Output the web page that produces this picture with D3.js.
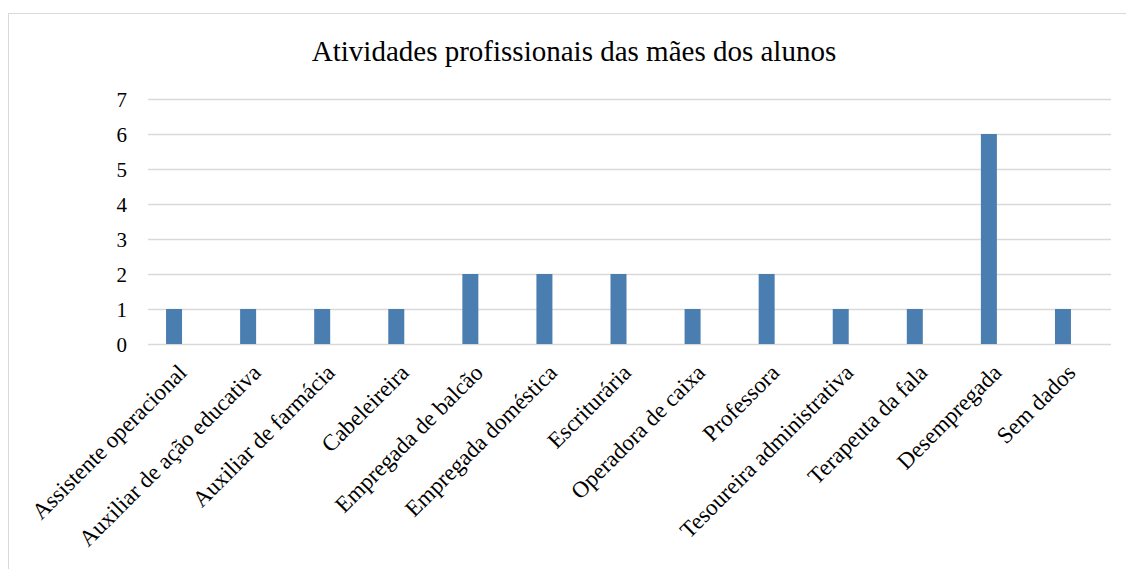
<!DOCTYPE html>
<html><head><meta charset="utf-8">
<script src="https://cdnjs.cloudflare.com/ajax/libs/d3/7.8.5/d3.min.js"></script>
<style>html,body{margin:0;padding:0;background:#fff;}svg{display:block;}</style>
</head><body>
<svg id="c" width="1126" height="569"></svg>
<script>
const title = "Atividades profissionais das mães dos alunos";
const categories = ["Assistente operacional","Auxiliar de ação educativa","Auxiliar de farmácia","Cabeleireira","Empregada de balcão","Empregada doméstica","Escriturária","Operadora de caixa","Professora","Tesoureira administrativa","Terapeuta da fala","Desempregada","Sem dados"];
const values = [1,1,1,1,2,2,2,1,2,1,1,6,1];
const yTicks = [0,1,2,3,4,5,6,7];

const svg = d3.select("#c");
const font = "Liberation Serif, Times New Roman, serif";
svg.append("rect").attr("width",1126).attr("height",569).attr("fill","#fff");
svg.append("rect").attr("x",8.5).attr("y",13.5).attr("width",1140).attr("height",620)
  .attr("fill","none").attr("stroke","#d9d9d9").attr("stroke-width",1);

const gridX0 = 148, gridX1 = 1111;
const x = d3.scaleBand().domain(categories).range([137, 1100]).paddingInner(0.78).paddingOuter(0.39);
const y = d3.scaleLinear().domain([0,7]).range([344, 99]);

svg.append("text").attr("x",574).attr("y",61).attr("text-anchor","middle")
  .style("font-family",font).attr("font-size",29).attr("fill","#000").text(title);

const grid = svg.append("g");
grid.selectAll("line").data(yTicks).join("line")
  .attr("x1",gridX0).attr("x2",gridX1)
  .attr("y1",d=>Math.round(y(d))+0.5).attr("y2",d=>Math.round(y(d))+0.5)
  .attr("stroke","#d9d9d9").attr("stroke-width",1.3);

const yAxis = d3.axisLeft(y).tickValues(yTicks).tickSize(0).tickPadding(0).tickFormat(d3.format("d"));
const ya = svg.append("g").attr("transform","translate(127,0)").call(yAxis);
ya.select(".domain").remove();
ya.selectAll("text").style("font-family",font).attr("font-size",21).attr("fill","#000").attr("dy","0.36em");

const bw = 16;
svg.append("g").selectAll("rect").data(values).join("rect")
  .attr("x",(d,i)=>x(categories[i])+x.bandwidth()/2-bw/2)
  .attr("width",bw)
  .attr("y",d=>y(d)).attr("height",d=>y(0)-y(d))
  .attr("fill","#4a7eb1");

const xa = svg.append("g");
xa.selectAll("text").data(categories).join("text")
  .attr("transform",d=>`translate(${x(d)+x.bandwidth()/2+14},${374}) rotate(-45)`)
  .attr("text-anchor","end")
  .style("font-family",font).attr("font-size",23).attr("fill","#000")
  .text(d=>d);
</script>
</body></html>
